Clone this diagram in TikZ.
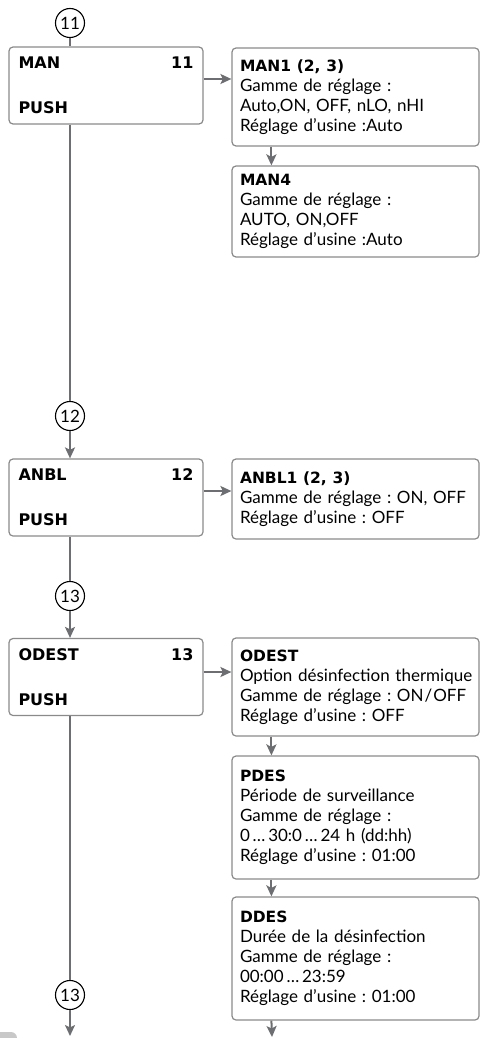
\documentclass[tikz,border=0pt]{standalone}
\usepackage{fontspec}
\setmainfont{Lato}
\newfontfamily\titlefont{DejaVu Sans}
\usetikzlibrary{arrows.meta}
\definecolor{conn}{HTML}{6D6E71}
\definecolor{boxline}{HTML}{8A8A8A}
\definecolor{tabgrey}{HTML}{C8C8C8}
\frenchspacing
\newcommand{\ttl}[1]{{\titlefont\bfseries\fontsize{15.5}{20}\selectfont #1}}
\tikzset{
  conline/.style={draw=conn, line width=2pt},
  arr/.style={conline, -{Stealth[length=11pt,width=10pt,inset=2.5pt]}},
  numcircle/.style={circle, draw=black, line width=1.1pt, minimum size=29pt, inner sep=0pt, font=\fontsize{17}{17}\selectfont},
  menubox/.style={draw=boxline, line width=1.2pt, rounded corners=4pt, minimum width=194pt, minimum height=77pt, inner xsep=8pt, text width=175pt, align=left, font=\titlefont\bfseries\fontsize{16}{22.5}\selectfont},
  infobox/.style={draw=boxline, line width=1.2pt, rounded corners=4pt, minimum width=247pt, inner xsep=8pt, text width=231pt, align=left, font=\frenchspacing\fontsize{17}{20}\selectfont}
}
\begin{document}
\begin{tikzpicture}[x=1pt, y=-1pt]
\useasboundingbox (0,0) rectangle (480,1038);
% bottom-left grey tab
\fill[tabgrey, rounded corners=6pt] (-14,1032) rectangle (17,1052);

% left column
\node[numcircle] (c11) at (70,23) {11};
\node[menubox] (man) at (106,85.5) {MAN\hfill 11\\ \mbox{}\\ PUSH};
\node[numcircle] (c12) at (70,416) {12};
\node[menubox] (anbl) at (106,497.5) {ANBL\hfill 12\\ \mbox{}\\ PUSH};
\node[numcircle] (c13a) at (70,596) {13};
\node[menubox] (odest) at (106,677) {ODEST\hfill 13\\ \mbox{}\\ PUSH};
\node[numcircle] (c13b) at (70,995) {13};
\coordinate (leftend) at (70,1036);

% right column
\node[infobox, minimum height=98pt] (man1) at (355.5,97) {\ttl{MAN1 (2, 3)}\\Gamme de réglage :\\Auto,ON, OFF, nLO, nHI\\Réglage d’usine :Auto};
\node[infobox, minimum height=91pt] (man4) at (355.5,211.5) {\ttl{MAN4}\\Gamme de réglage :\\AUTO, ON,OFF\\Réglage d’usine :Auto};
\node[infobox, minimum height=80pt] (anbl1) at (355.5,499) {\ttl{ANBL1 (2, 3)}\\Gamme de réglage : ON, OFF\\Réglage d’usine : OFF};
\node[infobox, minimum height=98pt] (odest1) at (355.5,687) {\ttl{ODEST}\\\mbox{Option désinfection thermique}\\Gamme de réglage : ON\kern1pt/\kern1pt OFF\\Réglage d’usine : OFF};
\node[infobox, minimum height=123pt] (pdes) at (355.5,817.5) {\ttl{PDES}\\Période de surveillance\\Gamme de réglage :\\0\,…\,30:0\,…\,24 h (dd:hh)\\Réglage d’usine : 01:00};
\node[infobox, minimum height=123pt] (ddes) at (355.5,958.5) {\ttl{DDES}\\Durée de la désinfection\\Gamme de réglage :\\00:00\,…\,23:59\\Réglage d’usine : 01:00};
\coordinate (rightend) at (272,1037);

% left column connectors
\draw[conline] (c11.south) -- (c11 |- man.north);
\draw[conline] (c11 |- man.south) -- (c12.north);
\draw[arr] (c12.south) -- (c12 |- anbl.north);
\draw[conline] (c12 |- anbl.south) -- (c13a.north);
\draw[arr] (c13a.south) -- (c13a |- odest.north);
\draw[conline] (c13a |- odest.south) -- (c13b.north);
\draw[arr] (c13b.south) -- (leftend);

% horizontal connectors
\draw[arr] ([yshift=6.5pt]man.east) -- ([yshift=6.5pt]man.east -| man1.west);
\draw[arr] ([yshift=6.5pt]anbl.east) -- ([yshift=6.5pt]anbl.east -| anbl1.west);
\draw[arr] ([yshift=5pt]odest.east) -- ([yshift=5pt]odest.east -| odest1.west);

% right column connectors
\draw[arr] ([xshift=40pt]man1.south west) -- ([xshift=40pt]man4.north west);
\draw[arr] ([xshift=40pt]odest1.south west) -- ([xshift=40pt]pdes.north west);
\draw[arr] ([xshift=40pt]pdes.south west) -- ([xshift=40pt]ddes.north west);
\draw[arr] ([xshift=40pt]ddes.south west) -- (rightend);
\end{tikzpicture}
\end{document}
